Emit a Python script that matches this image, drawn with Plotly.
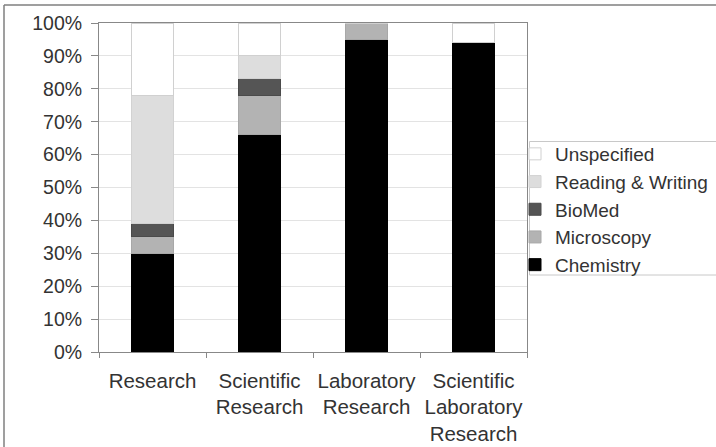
import plotly.graph_objects as go

categories = ["Research", "Scientific<br>Research", "Laboratory<br>Research", "Scientific<br>Laboratory<br>Research"]
chemistry = [30, 66, 95, 94]
microscopy = [5, 12, 5, 0]
biomed = [4, 5, 0, 0]
reading_writing = [39, 7, 0, 0]
unspecified = [22, 10, 0, 6]

series = [
    ("Chemistry", chemistry, "#000000", "#000000"),
    ("Microscopy", microscopy, "#b3b3b3", "#a8a8a8"),
    ("BioMed", biomed, "#555555", "#4a4a4a"),
    ("Reading & Writing", reading_writing, "#dddddd", "#d2d2d2"),
    ("Unspecified", unspecified, "#ffffff", "#d0d0d0"),
]

fig = go.Figure()
for name, vals, col, lc in series:
    fig.add_trace(go.Bar(x=categories, y=vals, name=name,
                         marker=dict(color=col, line=dict(color=lc, width=1)),
                         width=0.4))

W, H = 716, 447
ml, mr, mt, mb = 99, 189, 23, 95
pw = W - ml - mr
ph = H - mt - mb

def px_x(p):
    return (p - ml) / pw

def px_y(p):
    return (H - mb - p) / ph

font = "Liberation Sans, Arial, sans-serif"
fig.update_layout(
    width=W, height=H,
    margin=dict(l=ml, r=mr, t=mt, b=mb, pad=0, autoexpand=False),
    barmode="stack",
    paper_bgcolor="white", plot_bgcolor="white",
    font=dict(family=font, size=19.5, color="#333333"),
    showlegend=True,
    legend=dict(x=px_x(515), y=px_y(135), xanchor="left", yanchor="top",
                bgcolor="rgba(0,0,0,0)", borderwidth=0,
                font=dict(size=19, color="#333333"),
                traceorder="reversed", tracegroupgap=0),
    xaxis=dict(showline=True, linecolor="#888888", linewidth=1, mirror=True,
               ticks="outside", tickson="boundaries", ticklen=5, tickcolor="#888888",
               tickfont=dict(size=20.5), showgrid=False, tickangle=0,
               ticklabelstandoff=10, automargin=False),
    yaxis=dict(range=[0, 100], dtick=10, ticksuffix="%", showline=True,
               linecolor="#888888", linewidth=1, mirror=True,
               ticks="outside", ticklen=7, tickcolor="#888888",
               gridcolor="#e3e3e3", gridwidth=1, zeroline=False,
               ticklabelstandoff=5,
               tickfont=dict(size=19.5), automargin=False),
    shapes=[
        dict(type="rect", xref="paper", yref="paper",
             x0=px_x(529.5), x1=px_x(730), y0=px_y(275), y1=px_y(141.5),
             line=dict(color="#c8c8c8", width=1), fillcolor="rgba(0,0,0,0)"),
        dict(type="line", xref="paper", yref="paper",
             x0=px_x(4), x1=px_x(730), y0=px_y(5), y1=px_y(5),
             line=dict(color="#7f7f7f", width=1.5)),
        dict(type="line", xref="paper", yref="paper",
             x0=px_x(4), x1=px_x(4), y0=px_y(5), y1=px_y(460),
             line=dict(color="#7f7f7f", width=1.5)),
    ],
)

fig.write_html("out.html", config={"displayModeBar": False},
               post_script="document.body.style.margin='0px';document.body.style.overflow='hidden';")
